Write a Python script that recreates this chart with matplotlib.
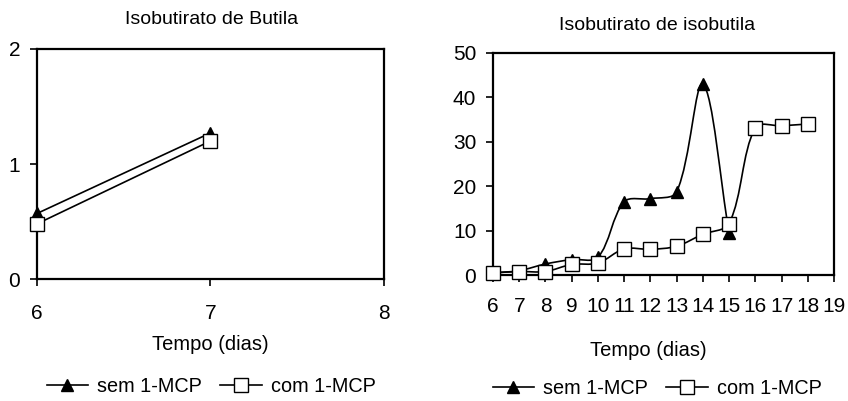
import numpy as np
import matplotlib
matplotlib.use('Agg')
from matplotlib import pyplot as plt
from matplotlib.path import Path
from matplotlib.patches import PathPatch
from matplotlib.lines import Line2D

plt.rcParams['font.family'] = ['Liberation Sans', 'DejaVu Sans']

# Isobutirato de Butila
dias_b = [6, 7]
sem_b = [0.57, 1.27]
com_b = [0.48, 1.20]

# Isobutirato de isobutila
dias_sem = [6, 7, 8, 9, 10, 11, 12, 13, 14, 15]
sem_i = [0.5, 1.0, 2.5, 3.5, 4.0, 16.5, 17.2, 18.7, 43.0, 9.5]
dias_com = [6, 7, 8, 9, 10, 11, 12, 13, 14, 15, 16, 17, 18]
com_i = [0.5, 0.8, 0.8, 2.4, 2.7, 5.9, 5.8, 6.5, 9.2, 11.6, 33.2, 33.6, 34.0]


def smooth_path(ax, x, y):
    # smoothed line like the spreadsheet one: bezier through the points,
    # handles scaled by the length of the neighbouring segments (screen space)
    p = ax.transData.transform(np.column_stack([x, y]))
    n = len(p)
    verts = [p[0]]
    codes = [Path.MOVETO]
    for i in range(n - 1):
        i0 = max(i - 1, 0)
        i3 = min(i + 2, n - 1)
        d_a = np.hypot(*(p[i] - p[i0]))
        d_b = np.hypot(*(p[i + 1] - p[i]))
        d_c = np.hypot(*(p[i3] - p[i + 1]))
        t1 = p[i + 1] - p[i0]
        t2 = p[i3] - p[i]
        k1 = d_b / (d_a + d_b) if d_a + d_b > 0 else 0.5
        k2 = d_b / (d_b + d_c) if d_b + d_c > 0 else 0.5
        c1 = p[i] + t1 * k1 / 3
        c2 = p[i + 1] - t2 * k2 / 3
        verts += [c1, c2, p[i + 1]]
        codes += [Path.CURVE4] * 3
    verts = ax.transData.inverted().transform(np.array(verts))
    return Path(verts, codes)


fig = plt.figure(figsize=(8.48, 4.01), dpi=100)
ax1 = fig.add_axes([0.0436, 0.304, 0.4092, 0.574])
ax2 = fig.add_axes([0.5814, 0.314, 0.4021, 0.554])

tri = dict(marker='^', color='black', markerfacecolor='black', markersize=9, lw=1.2)
sq = dict(marker='s', color='black', markerfacecolor='white', markersize=10, lw=1.2)

ax1.set_xlim(6, 8)
ax1.set_ylim(0, 2)
ax1.plot(dias_b, sem_b, clip_on=False, zorder=3, **tri)
ax1.plot(dias_b, com_b, clip_on=False, zorder=4, **sq)
ax1.set_xticks([6, 7, 8])
ax1.set_yticks([0, 1, 2])

ax2.set_xlim(6, 19)
ax2.set_ylim(0, 50)
ax2.add_patch(PathPatch(smooth_path(ax2, dias_sem, sem_i), fill=False, lw=1.2, ec='black', zorder=2))
ax2.add_patch(PathPatch(smooth_path(ax2, dias_com, com_i), fill=False, lw=1.2, ec='black', zorder=2))
ax2.plot(dias_sem, sem_i, ls='none', clip_on=False, zorder=3, **tri)
ax2.plot(dias_com, com_i, ls='none', clip_on=False, zorder=4, **sq)
ax2.set_xticks(range(6, 20))
ax2.set_yticks(range(0, 51, 10))

for ax in (ax1, ax2):
    for s in ax.spines.values():
        s.set_linewidth(1.6)
    ax.tick_params(direction='out', length=5, width=1.2, labelsize=15, pad=7)
ax1.tick_params(axis='x', pad=13)
ax2.tick_params(axis='x', pad=11)

fig.text(0.249, 1 - 20 / 401, 'Isobutirato de Butila', ha='center', va='center', fontsize=14)
fig.text(0.775, 1 - 26 / 401, 'Isobutirato de isobutila', ha='center', va='center', fontsize=14)
fig.text(210 / 848, 1 - 344 / 401, 'Tempo (dias)', ha='center', va='center', fontsize=14.5)
fig.text(648 / 848, 1 - 350 / 401, 'Tempo (dias)', ha='center', va='center', fontsize=14.5)

handles = [Line2D([], [], **tri), Line2D([], [], **sq)]
labels = ['sem 1-MCP', 'com 1-MCP']
for xc, yc in ((211, 386), (657, 388)):
    fig.legend(handles, labels, loc='center', bbox_to_anchor=(xc / 848, 1 - yc / 401), ncol=2,
               frameon=False, fontsize=14.3, handlelength=2.1, handletextpad=0.45,
               columnspacing=0.9, borderpad=0, borderaxespad=0)

fig.savefig('out.png', dpi=100)
